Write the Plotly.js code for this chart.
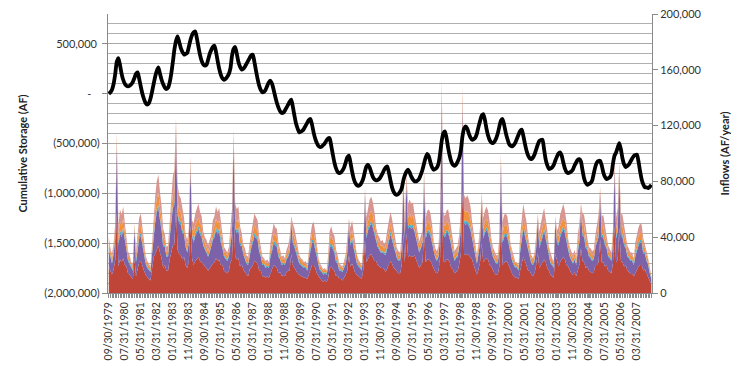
<!DOCTYPE html>
<html>
<head>
<meta charset="utf-8">
<script src="https://cdn.plot.ly/plotly-3.0.1.min.js"></script>
<style>html,body{margin:0;padding:0;background:#fff;}#chart{width:731px;height:365px;}</style>
</head>
<body>
<div id="chart"></div>
<script>
// x-axis tick labels (every 10th month)
const tickLabels = ['09/30/1979','07/31/1980','05/31/1981','03/31/1982','01/31/1983','11/30/1983','09/30/1984','07/31/1985','05/31/1986','03/31/1987','01/31/1988','11/30/1988','09/30/1989','07/31/1990','05/31/1991','03/31/1992','01/31/1993','11/30/1993','09/30/1994','07/31/1995','05/31/1996','03/31/1997','01/31/1998','11/30/1998','09/30/1999','07/31/2000','05/31/2001','03/31/2002','01/31/2003','11/30/2003','09/30/2004','07/31/2005','05/31/2006','03/31/2007'];

// Cumulative storage, thousand AF (Sep 1979, then water years Oct-Sep, then Oct-Dec 2007)
const storageKAF = [
0,
15,40,100,200,320,358,290,200,140,100,80,73,
80,95,120,160,200,214,150,70,0,-55,-95,-110,
-95,-50,20,100,170,230,264,200,140,95,62,47,
60,110,200,320,440,530,575,520,460,420,392,400,
410,470,540,590,615,625,560,470,390,330,295,281,
290,340,400,440,470,482,420,330,250,190,155,140,
150,170,200,260,380,450,469,400,320,270,241,250,
270,300,330,360,385,392,320,230,150,80,35,13,
20,40,80,115,130,100,40,-30,-90,-140,-175,-194,
-190,-170,-140,-110,-80,-60,-130,-220,-300,-350,-388,-380,
-370,-350,-320,-290,-265,-254,-310,-390,-450,-495,-525,-535,
-530,-515,-495,-470,-450,-445,-520,-610,-690,-750,-785,-796,
-790,-770,-740,-690,-640,-622,-690,-780,-850,-895,-918,-924,
-915,-890,-850,-780,-730,-713,-740,-790,-835,-860,-870,-865,
-855,-830,-800,-765,-740,-730,-790,-870,-940,-985,-1008,-1014,
-1005,-985,-950,-870,-820,-780,-763,-790,-830,-860,-878,-880,
-870,-850,-810,-760,-700,-640,-605,-630,-690,-740,-763,-755,
-740,-700,-600,-470,-400,-378,-440,-540,-620,-680,-712,-723,
-710,-680,-640,-560,-430,-350,-328,-350,-400,-440,-462,-455,
-440,-400,-330,-270,-220,-204,-260,-350,-420,-465,-490,-495,
-480,-450,-400,-330,-270,-254,-310,-390,-450,-500,-522,-529,
-515,-490,-450,-410,-375,-361,-420,-500,-570,-620,-648,-656,
-640,-610,-560,-510,-475,-465,-462,-560,-660,-720,-756,-750,
-740,-715,-670,-630,-600,-589,-620,-690,-750,-785,-796,-790,
-780,-760,-720,-690,-665,-656,-680,-770,-850,-895,-914,-905,
-895,-870,-800,-730,-690,-675,-673,-720,-790,-835,-857,-850,
-840,-810,-700,-620,-590,-540,-495,-560,-650,-710,-736,-725,
-710,-680,-650,-625,-615,-612,-680,-780,-860,-910,-940,-940,
-947,-935,-914
];

// Inflow components, thousand AF (stacked, bottom to top)
const inflowRed = [
19,
15,13,17,24,58,19,24,22,25,20,19,14,
13,11,10,25,12,17,22,23,19,16,13,11,
10,9,17,26,28,32,34,29,25,18,20,16,
16,24,29,34,35,63,31,28,27,24,26,20,
18,22,49,25,20,23,24,26,23,22,21,19,
18,16,18,20,21,22,25,23,24,20,20,16,
15,14,16,22,24,59,26,24,25,19,21,17,
15,13,12,17,18,20,23,22,21,16,16,12,
12,11,12,11,14,17,20,19,18,14,15,12,
13,12,15,16,16,28,20,18,16,14,13,12,
12,11,11,10,13,16,20,20,18,14,12,10,
9,8,9,8,10,18,19,17,16,12,13,10,
10,9,11,13,16,27,19,21,18,14,13,12,
11,10,17,38,22,25,27,28,26,23,23,20,
19,18,18,17,15,18,21,23,21,18,17,15,
14,14,20,43,22,43,26,27,26,26,27,24,
21,18,20,22,44,22,24,24,23,20,18,15,
14,16,26,77,23,22,24,24,22,18,17,14,
15,16,21,29,74,28,27,28,27,25,24,20,
16,13,17,23,36,22,24,25,24,20,19,16,
14,13,13,19,50,20,22,23,22,19,17,14,
12,11,11,10,16,22,26,23,20,16,16,13,
12,14,20,29,18,20,22,24,22,18,16,13,
12,11,28,22,19,22,24,26,24,20,19,16,
14,13,15,12,16,20,32,23,22,18,19,16,
15,14,15,20,20,22,38,22,22,19,20,16,
15,14,22,48,22,24,47,23,22,19,20,16,
15,14,14,12,14,17,19,20,20,16,17,14,
12,9,6
];
const inflowPurple = [
12,
10,8,11,15,48,15,19,18,20,16,12,9,
8,7,6,21,10,13,17,18,15,13,8,7,
6,6,11,17,22,26,27,23,20,15,13,10,
10,15,23,27,28,53,25,22,22,19,16,13,
11,14,41,16,16,18,19,20,19,18,13,12,
11,10,11,13,17,18,20,19,20,16,12,10,
9,9,10,14,19,49,20,19,20,15,13,11,
10,8,8,11,14,16,18,17,17,13,10,8,
8,7,7,7,12,13,16,15,15,12,9,8,
8,8,9,10,13,23,16,15,13,11,8,8,
7,7,7,6,11,13,16,16,14,12,8,6,
6,5,5,5,8,14,15,14,13,10,8,6,
6,6,7,8,12,22,15,17,14,12,8,7,
7,6,11,32,17,20,21,22,21,19,14,13,
12,11,11,11,12,14,17,19,17,15,11,10,
9,9,12,36,17,36,20,21,20,21,17,15,
13,11,12,14,37,17,19,19,18,16,11,10,
9,10,17,64,19,18,19,19,17,15,11,9,
10,10,13,18,62,22,22,22,21,20,15,13,
10,8,11,14,30,17,19,20,19,16,12,10,
9,8,8,12,42,16,18,18,18,15,11,9,
8,7,7,6,13,17,20,18,16,13,10,8,
8,9,12,24,14,16,18,20,17,14,10,8,
8,7,23,14,15,18,19,20,19,16,12,10,
9,8,9,8,13,16,27,18,18,14,12,10,
10,9,9,13,16,18,32,18,18,15,12,10,
10,9,14,40,17,20,39,18,18,15,12,10,
10,9,9,8,12,13,15,16,16,12,11,9,
8,5,4
];
const inflowTeal = [
1,
1,1,1,1,1,2,2,2,2,2,1,1,
1,1,1,1,2,2,2,2,2,2,1,1,
1,1,1,1,2,2,2,2,2,2,1,1,
1,1,2,2,2,1,2,2,2,2,1,1,
1,1,1,1,2,2,2,2,2,2,1,1,
1,1,1,1,2,2,2,2,2,2,1,1,
1,1,1,1,2,1,2,2,2,2,1,1,
1,1,1,1,2,2,2,2,2,2,1,1,
1,1,1,1,2,2,2,2,2,2,1,1,
1,1,1,1,2,1,2,2,2,2,1,1,
1,1,1,1,2,2,2,2,2,2,1,1,
1,1,1,1,2,2,2,2,2,2,1,1,
1,1,1,1,2,1,2,2,2,2,1,1,
1,1,1,1,2,2,2,2,2,2,1,1,
1,1,1,1,2,2,2,2,2,2,1,1,
1,1,1,1,2,1,2,2,2,2,1,1,
1,1,1,1,1,2,2,2,2,2,1,1,
1,1,1,1,2,2,2,2,2,2,1,1,
1,1,1,1,1,2,2,2,2,2,1,1,
1,1,1,1,1,2,2,2,2,2,1,1,
1,1,1,1,1,2,2,2,2,2,1,1,
1,1,1,1,2,2,2,2,2,2,1,1,
1,1,1,1,2,2,2,2,2,2,1,1,
1,1,1,1,2,2,2,2,2,2,1,1,
1,1,1,1,2,2,1,2,2,2,1,1,
1,1,1,1,2,2,1,2,2,2,1,1,
1,1,1,1,2,2,1,2,2,2,1,1,
1,1,1,1,2,2,2,2,2,2,1,1,
1,1,1
];
const inflowOrange = [
4,
3,3,4,5,5,5,6,6,6,5,4,3,
3,2,2,2,3,4,5,6,5,4,3,2,
2,2,3,6,7,8,9,7,6,5,4,3,
3,5,7,8,9,5,8,7,7,6,5,4,
4,5,4,5,5,6,6,6,6,6,4,4,
4,3,4,4,5,6,6,6,6,5,4,3,
3,3,3,4,6,5,6,6,6,5,4,3,
3,3,3,4,4,5,6,5,5,4,3,3,
3,2,2,2,4,4,5,5,5,4,3,3,
3,3,3,3,4,2,5,5,4,3,3,3,
2,2,2,2,3,4,5,5,4,4,3,2,
2,2,2,2,3,4,5,4,4,3,3,2,
2,2,2,3,4,2,5,5,4,4,3,2,
2,2,4,3,5,6,7,7,7,6,5,4,
4,4,4,3,4,5,5,6,5,5,4,3,
3,3,4,3,5,3,6,7,6,7,6,5,
4,4,4,4,4,5,6,6,6,5,4,3,
3,3,6,6,6,6,6,6,5,5,3,3,
3,3,4,6,6,7,7,7,7,6,5,4,
3,3,4,5,3,5,6,6,6,5,4,3,
3,3,3,4,4,5,6,6,6,5,3,3,
3,2,2,2,4,5,6,6,5,4,3,3,
3,3,4,2,4,5,6,6,5,5,3,3,
3,2,2,4,5,6,6,6,6,5,4,3,
3,3,3,3,4,5,3,6,6,5,4,3,
3,3,3,4,5,6,3,6,6,5,4,3,
3,3,5,4,5,6,4,6,6,5,4,3,
3,3,3,3,4,4,5,5,5,4,3,3,
3,2,1
];
const inflowPink = [
4,
3,3,3,5,3,7,9,8,9,7,4,3,
2,1,2,1,3,6,8,8,7,5,2,2,
2,1,3,5,10,12,13,11,9,6,4,3,
4,5,11,13,14,3,12,11,10,9,6,4,
4,4,3,5,7,8,9,10,8,7,5,4,
4,4,4,4,7,7,9,8,9,7,4,3,
3,2,3,4,9,3,10,9,9,7,4,3,
3,2,2,3,6,7,8,8,7,5,3,2,
1,2,2,1,4,6,7,6,6,4,3,2,
2,1,3,4,5,1,7,6,5,4,2,1,
2,1,2,1,4,6,6,8,6,4,1,2,
1,1,1,0,3,6,7,6,6,4,2,2,
1,1,2,3,5,1,6,7,6,4,2,2,
1,1,3,1,8,9,10,10,9,8,4,4,
4,3,4,3,4,6,8,8,8,6,3,3,
3,2,4,3,8,2,10,10,10,9,6,5,
5,3,4,4,2,8,8,9,8,6,3,3,
3,4,5,5,8,7,8,9,8,6,3,3,
3,4,4,6,5,11,10,11,10,9,6,4,
4,2,3,5,2,8,8,9,8,8,3,3,
3,2,2,4,3,8,8,8,7,6,3,3,
2,1,1,1,6,8,10,8,8,5,3,2,
1,2,4,1,6,8,8,9,8,6,3,3,
1,2,1,4,6,8,9,10,8,8,3,3,
3,2,3,2,6,7,1,8,8,6,3,3,
3,3,3,4,6,8,2,7,8,6,4,4,
3,2,4,3,8,9,3,8,8,6,4,4,
3,2,2,1,4,6,6,7,6,5,3,3,
1,1,0
];

// axis tick text
const leftTickVals = [-2000,-1500,-1000,-500,0,500];
const leftTickText = ['(2,000,000)','(1,500,000)','(1,000,000)','(500,000)','-\u00a0\u00a0\u00a0','500,000\u00a0'];
const rightTickVals = [0,40,80,120,160,200];
const rightTickText = ['0','40,000','80,000','120,000','160,000','200,000'];

// month-end dates Sep 1979 .. Dec 2007 (one per data point)
const months = [];
for (let i = 0; i < storageKAF.length; i++) {
  const y = 1979 + Math.floor((8 + i) / 12);
  const m = (8 + i) % 12;
  const d = new Date(Date.UTC(y, m + 1, 0)).getUTCDate();
  months.push(y + '-' + String(m + 1).padStart(2, '0') + '-' + String(d).padStart(2, '0'));
}
const tickVals = tickLabels.map(s => s.slice(6) + '-' + s.slice(0, 2) + '-' + s.slice(3, 5));

const layers = [
  {y: inflowRed, c: '#BE4538'},
  {y: inflowPurple, c: '#7B62A9'},
  {y: inflowTeal, c: '#45AFC9'},
  {y: inflowOrange, c: '#F0913E'},
  {y: inflowPink, c: '#D99590'}
];
const traces = layers.map(L => ({
  x: months, y: L.y, type: 'scatter', mode: 'lines', stackgroup: 'inflow',
  line: {width: 0, color: L.c}, fillcolor: L.c, yaxis: 'y', hoverinfo: 'skip'
}));
traces.push({
  x: months, y: storageKAF, type: 'scatter', mode: 'lines', yaxis: 'y2',
  line: {color: '#000000', width: 3.8, shape: 'spline', smoothing: 0.6}
});

const axisCol = '#8A8A8A';
const layout = {
  width: 731, height: 365,
  margin: {l: 108, r: 79, t: 14, b: 72, pad: 0},
  paper_bgcolor: '#ffffff', plot_bgcolor: '#ffffff',
  showlegend: false,
  font: {family: 'Lato, "Liberation Sans", sans-serif', size: 11, color: '#333333'},
  xaxis: {
    type: 'date', range: ['1979-09-15', '2008-01-12'],
    tickmode: 'array', tickvals: tickVals, ticktext: tickLabels, tickangle: -90,
    ticks: 'outside', ticklen: 4, tickcolor: axisCol, tickfont: {size: 10.5},
    showline: true, linecolor: axisCol, showgrid: false, zeroline: false,
    minor: {ticks: 'outside', ticklen: 4, dtick: 'M1', tick0: '1979-09-01', tickcolor: axisCol, showgrid: false}
  },
  yaxis: {
    side: 'right', range: [0, 200], tickmode: 'array', tickvals: rightTickVals, ticktext: rightTickText,
    ticks: 'outside', ticklen: 5, tickcolor: axisCol, showline: true, linecolor: axisCol,
    showgrid: false, zeroline: false,
    title: {text: '<b>Inflows (AF/year)</b>', font: {size: 11, color: '#222222'}, standoff: 21}
  },
  yaxis2: {
    overlaying: 'y', side: 'left', range: [-2000, 800], tickmode: 'array', tickvals: leftTickVals, ticktext: leftTickText,
    ticks: 'outside', ticklen: 5, tickcolor: axisCol, showline: true, linecolor: axisCol,
    showgrid: true, gridcolor: '#A8A8A8', gridwidth: 1, zeroline: false,
    minor: {tickmode: 'linear', tick0: 0, dtick: 100, showgrid: true, gridcolor: '#B0B0B0', gridwidth: 1, ticks: ''},
    title: {text: '<b>Cumulative Storage (AF)</b>', font: {size: 11, color: '#222222'}, standoff: 14}
  }
};
Plotly.newPlot('chart', traces, layout, {displayModeBar: false, staticPlot: true});
</script>
</body>
</html>
